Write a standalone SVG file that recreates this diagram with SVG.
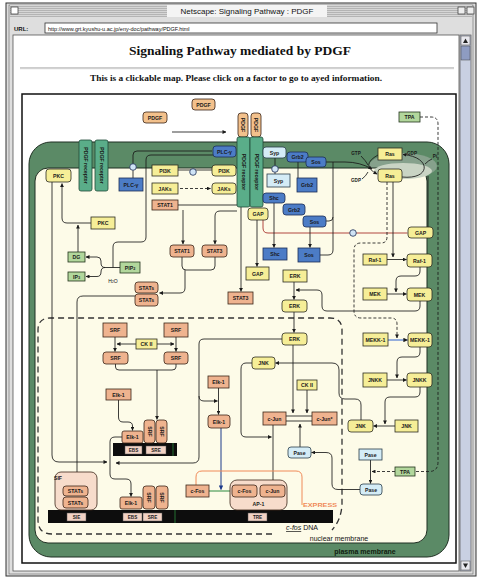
<svg xmlns="http://www.w3.org/2000/svg" width="480" height="582" viewBox="0 0 480 582">
<defs>
<marker id="a" viewBox="0 0 6 6" refX="5.5" refY="3" markerWidth="4.5" markerHeight="4.5" orient="auto"><path d="M0,0L6,3L0,6z" fill="#1a1a1a"/></marker>
<marker id="ab" viewBox="0 0 6 6" refX="5.5" refY="3" markerWidth="4.5" markerHeight="4.5" orient="auto"><path d="M0,0L6,3L0,6z" fill="#1d3a8a"/></marker>
<pattern id="st" width="3" height="2" patternUnits="userSpaceOnUse"><rect width="3" height="1" fill="#b4b4b4"/></pattern>
</defs>
<style>
.t{font-family:"Liberation Sans",Arial,sans-serif;font-size:5.2px;font-weight:bold;text-anchor:middle;fill:#1a1a1a}
.s{font-family:"Liberation Sans",Arial,sans-serif;font-size:4.6px;font-weight:bold;text-anchor:middle;fill:#1a1a1a}
.y{fill:#f6ee97;stroke:#2b2b22;stroke-width:.8}
.o{fill:#efb38f;stroke:#3a2518;stroke-width:.8}
.b{fill:#4c7cc6;stroke:#1c2d55;stroke-width:.8}
.lb{fill:#d4ecf6;stroke:#2a3d4a;stroke-width:.8}
.g{fill:#b2d79c;stroke:#22331c;stroke-width:.8}
.rc{fill:#5aad89;stroke:#1f4a37;stroke-width:.8}
.pd{fill:#f3c18c;stroke:#3a2518;stroke-width:.8}
.po{fill:#f7dccb;stroke:#3a2518;stroke-width:.8}
.ci{fill:#cfe3f5;stroke:#1c2d55;stroke-width:.8}
.c{fill:none;stroke:#1a1a1a;stroke-width:.85}
.d{fill:none;stroke:#1a1a1a;stroke-width:.85;stroke-dasharray:3 2}
.nm{fill:none;stroke:#333;stroke-width:1.3;stroke-dasharray:6 4}
.bar{fill:#0d0d0d}
.sm{fill:#f2d2c4;stroke:#555;stroke-width:.5}
</style>
<rect width="480" height="582" fill="#fff"/>
<g id="window">
<rect x="6" y="3" width="470" height="573" fill="#dedede" stroke="#333" stroke-width="1"/>
<rect x="9" y="5" width="464" height="569" fill="none" stroke="#666" stroke-width=".6"/>
<rect x="10" y="5" width="462" height="12" fill="#d6d6d6"/>
<rect x="10" y="5" width="462" height="12" fill="url(#st)"/>
<rect x="167" y="5" width="160" height="12" fill="#f4f4f4"/>
<text x="247" y="14" font-family="'Liberation Sans',Arial,sans-serif" font-size="8" text-anchor="middle" fill="#111">Netscape: Signaling Pathway : PDGF</text>
<rect x="11" y="7" width="7" height="7" fill="#fff" stroke="#333" stroke-width=".7"/>
<rect x="458" y="7" width="7" height="7" fill="#eee" stroke="#333" stroke-width=".7"/>
<rect x="467" y="7" width="7" height="7" fill="#eee" stroke="#333" stroke-width=".7"/>
<text x="14" y="31" font-family="'Liberation Sans',Arial,sans-serif" font-size="6" font-weight="bold" fill="#111">URL:</text>
<rect x="45" y="23" width="392" height="10" fill="#fff" stroke="#333" stroke-width=".8"/>
<text x="48" y="30.5" font-family="'Liberation Sans',Arial,sans-serif" font-size="5.5" fill="#111">http://www.grt.kyushu-u.ac.jp/eny-doc/pathway/PDGF.html</text>
<rect x="13" y="35" width="446" height="536" fill="#fff" stroke="#555" stroke-width=".8"/>
<rect x="460" y="35" width="11" height="536" fill="#c9d0e2" stroke="#555" stroke-width=".7"/>
<rect x="461" y="36" width="9" height="9" fill="#e8e8ee" stroke="#444" stroke-width=".5"/>
<path d="M465.5,38.5L468,43H463z" fill="#222"/>
<rect x="461" y="46" width="9" height="14" fill="#8e9cc2" stroke="#444" stroke-width=".5"/>
<rect x="461" y="561" width="9" height="9" fill="#e8e8ee" stroke="#444" stroke-width=".5"/>
<path d="M465.5,568L468,563.5H463z" fill="#222"/>
<text x="240" y="55" font-family="'Liberation Serif','Times New Roman',serif" font-size="13.5" font-weight="bold" text-anchor="middle" fill="#111">Signaling Pathway mediated by PDGF</text>
<line x1="20" y1="68" x2="454" y2="68" stroke="#9a9a9a" stroke-width="1"/>
<line x1="20" y1="69" x2="454" y2="69" stroke="#e0e0e0" stroke-width=".6"/>
<text x="236" y="81" font-family="'Liberation Serif','Times New Roman',serif" font-size="7.6" font-weight="bold" text-anchor="middle" fill="#111" textLength="292" lengthAdjust="spacingAndGlyphs">This is a clickable map. Please click on a factor to go to ayed information.</text>
<rect x="22" y="94" width="434" height="469" fill="#fff" stroke="#111" stroke-width="1.5"/>
</g>
<g id="plasma-membrane">
<rect x="29" y="142" width="420" height="415" rx="22" fill="#5b8a66" stroke="#1f2f22" stroke-width="1"/>
<ellipse cx="403" cy="166" rx="34" ry="13" fill="#86a18c"/>
<rect x="35" y="168" width="392" height="375" rx="13" fill="#fdfbe8" stroke="#1f2f22" stroke-width="1"/>
<ellipse cx="403" cy="171" rx="29" ry="8" fill="#c9d4c4"/>
<text x="365" y="553.5" font-family="'Liberation Sans',Arial,sans-serif" font-size="7" font-weight="bold" text-anchor="middle" fill="#10200f">plasma membrane</text>
</g>
<g id="nuclear-membrane">
<path class="nm" d="M272,534H52Q38,534 38,520V330Q38,318 50,318H330Q342,318 342,330V505Q341,520 332,530"/>
<text x="302" y="530" font-family="'Liberation Sans',Arial,sans-serif" font-size="7" text-anchor="middle" fill="#111"><tspan font-style="italic" text-decoration="underline">c-fos</tspan> DNA</text>
<text x="339" y="540.5" font-family="'Liberation Sans',Arial,sans-serif" font-size="7" text-anchor="middle" fill="#111">nuclear membrane</text>
</g>
<g id="dna">
<rect class="bar" x="113" y="443" width="64" height="13"/>
<line x1="173" y1="443" x2="173" y2="456" stroke="#2b8a3e" stroke-width=".8"/>
<rect class="sm" x="125" y="446" width="17" height="8"/><text class="s" x="133.5" y="451.8">EBS</text>
<rect class="sm" x="146" y="446" width="20" height="8"/><text class="s" x="156" y="451.8">SRE</text>
<rect class="bar" x="48" y="510" width="285" height="13"/>
<line x1="175" y1="510" x2="175" y2="523" stroke="#2b8a3e" stroke-width=".8"/>
<rect class="sm" x="67" y="513" width="19" height="8"/><text class="s" x="76.5" y="518.8">SIE</text>
<rect class="sm" x="123" y="513" width="19" height="8"/><text class="s" x="132.5" y="518.8">EBS</text>
<rect class="sm" x="143" y="513" width="19" height="8"/><text class="s" x="152.5" y="518.8">SRE</text>
<rect class="sm" x="248" y="513" width="19" height="8"/><text class="s" x="257.5" y="518.8">TRE</text>
</g>
<g id="connectors">
<path class="c" d="M172,132H226" marker-end="url(#a)"/>
<path class="c" d="M133,163.7V155Q133,151 137,151H212"/>
<path class="c" d="M133,170.3V178"/>
<path class="c" d="M213,155H151Q146,155 146,160V237Q146,242 141,242H118Q113,242 113,247V267.5"/>
<path class="c" d="M120,267.5H105"/>
<path class="c" d="M105,267.5Q101,267.5 101,263V261Q101,257 97,257H86" marker-end="url(#a)"/>
<path class="c" d="M105,267.5Q101,267.5 101,272Q101,276.5 97,276.5H86" marker-end="url(#a)"/>
<path class="c" d="M91,223H67Q62,223 62,218V183.5" marker-end="url(#a)"/>
<path class="c" d="M78,252V225" marker-end="url(#a)"/>
<path class="c" d="M52,182V455Q52,462 59,462H107" marker-end="url(#a)"/>
<path class="c" d="M178,170H212"/>
<path class="d" d="M180,188.5H210.5" marker-end="url(#a)"/>
<path class="c" d="M178,205H237"/>
<path class="c" d="M183,210V244" marker-end="url(#a)"/>
<path class="c" d="M237,211H220Q215,211 215,216V244" marker-end="url(#a)"/>
<path class="c" d="M182,257V266Q182,270 186,270H211Q215,270 215,266V257"/>
<path class="c" d="M185,270V288Q185,293 180,293H159.5" marker-end="url(#a)"/>
<path class="c" d="M135,296H83Q77,296 77,302V485" marker-end="url(#a)"/>
<path class="c" d="M241,207V291.5" marker-end="url(#a)"/>
<path class="c" d="M257,220V266.5" marker-end="url(#a)"/>
<path fill="none" stroke="#a8322d" stroke-width=".9" d="M263,220V228Q263,233 268,233H407.5"/>
<path class="c" d="M275,158V165.7M275,172.3V174"/>
<path class="c" d="M298,162V178"/>
<path class="c" d="M274,203V247.5" marker-end="url(#a)"/>
<path class="c" d="M310,227V247.5" marker-end="url(#a)"/>
<path class="c" d="M326,162H345Q360,162 372,169" marker-end="url(#a)"/>
<path class="c" d="M320,255H328Q333,255 333,250V162"/>
<path class="c" d="M326,221H329Q333,221 333,217"/>
<path class="c" d="M378,155Q360,165 377,174" marker-end="url(#a)"/>
<path class="c" d="M402,177C431,180 432,157 403,154.5" marker-end="url(#a)"/>
<path class="c" d="M361,156Q366,161 368,165"/>
<path class="c" d="M362,179Q366,176 368,172"/>
<path class="c" d="M425,164Q429,160 432,159"/>
<path class="c" d="M428,227V176"/>
<path class="c" d="M393,182V257" marker-end="url(#a)"/>
<path class="d" d="M387,182V237Q387,243 381,243H361Q354,243 354,250V311Q354,318 361,318H391Q397,318 397,324V338" marker-end="url(#a)"/>
<path class="c" d="M387,259.5H406.5" marker-end="url(#a)"/>
<path class="c" d="M387,294H406.5" marker-end="url(#a)"/>
<path fill="none" stroke="#2e62d0" stroke-width="1" d="M388,340H407.5" marker-end="url(#a)"/>
<path class="c" d="M387,380H406.5" marker-end="url(#a)"/>
<path class="c" d="M420,267V271Q420,276 415,276H401Q396,276 396,281V292" marker-end="url(#a)"/>
<path class="c" d="M420,301V306Q420,311 415,311H327Q322,311 322,306V295Q322,290 317,290H296" marker-end="url(#a)"/>
<path class="c" d="M420,347V352Q420,357 415,357H402Q397,357 397,362V378" marker-end="url(#a)"/>
<path class="c" d="M420,387V392Q420,397 415,397H390Q385,397 385,402V424" marker-end="url(#a)"/>
<path class="c" d="M395,426H373.5" marker-end="url(#a)"/>
<path class="c" d="M361,420V405Q361,399 355,399H345Q339,399 339,393V370Q339,363 332,363H275.5" marker-end="url(#a)"/>
<path class="c" d="M294,282V299.5" marker-end="url(#a)"/>
<path class="c" d="M294,312V332.5" marker-end="url(#a)"/>
<path class="c" d="M282,339H204Q199,339 199,344V396Q199,401 204,401H217.5" marker-end="url(#a)"/>
<path class="c" d="M199,396V457Q199,463 193,463H116" marker-end="url(#a)"/>
<path class="c" d="M293,345V413" marker-end="url(#a)"/>
<path class="c" d="M252,363H246Q241,363 241,369V432Q241,437 246,437H271.5" marker-end="url(#a)"/>
<path class="c" d="M273,425V484" marker-end="url(#a)"/>
<path class="c" d="M286,416H312M286,421H312"/>
<path class="c" d="M307,390V413" marker-end="url(#a)"/>
<path class="c" d="M300,447V424" marker-end="url(#a)"/>
<path class="c" d="M360,489.5H338Q332,489.5 332,484V458Q332,452.5 326,452.5H311.5" marker-end="url(#a)"/>
<path class="c" d="M370.5,460V483.5" marker-end="url(#a)"/>
<path class="d" d="M395,471.5H372" marker-end="url(#a)"/>
<path class="d" d="M420,117H431Q438,117 438,124V462Q438,471.5 429,471.5H415"/>
<path class="c" d="M115,337V351.5" marker-end="url(#a)"/>
<path class="c" d="M176,337V351.5" marker-end="url(#a)"/>
<path class="c" d="M136,344H117" marker-end="url(#a)"/>
<path class="c" d="M157,344H174" marker-end="url(#a)"/>
<path class="c" d="M115.5,364V367Q115.5,370 119,370H172Q176,370 176,367V364"/>
<path class="c" d="M157,370V419.5" marker-end="url(#a)"/>
<path class="c" d="M118.5,400V417Q118.5,422 123,422H128Q132.5,422 132.5,426V430.5" marker-end="url(#a)"/>
<path class="c" d="M218.5,388V414.5" marker-end="url(#a)"/>
<path fill="none" stroke="#1d3a8a" stroke-width="1" d="M221,428V489.5" marker-end="url(#ab)"/>
<path fill="none" stroke="#2b8a3e" stroke-width="1" d="M209,491H232"/>
<path fill="none" stroke="#f08a58" stroke-width="1" d="M196,485V477Q196,471 202,471H296Q302,471 302,477V505"/>
<path class="c" d="M122,437H115Q110,437 110,442V474Q110,479 115,479H126Q131,479 131,484V496.5" marker-end="url(#a)"/>
</g>
<g id="PDGF-1"><rect class="pd" x="192" y="99" width="23" height="11" rx="3"/><text class="t" x="203.5" y="106.5">PDGF</text></g>
<g id="PDGF-2"><rect class="pd" x="143" y="112" width="24" height="11" rx="3"/><text class="t" x="155" y="119.5">PDGF</text></g>
<g id="PDGF-bound-1"><rect class="pd" x="238" y="113" width="10" height="24" rx="3"/><text class="t" transform="translate(241.2,125) rotate(90)">PDGF</text></g>
<g id="PDGF-bound-2"><rect class="pd" x="251" y="113" width="10" height="24" rx="3"/><text class="t" transform="translate(254.2,125) rotate(90)">PDGF</text></g>
<g id="receptor-1"><rect class="rc" x="237" y="137" width="13" height="70" rx="2"/><text class="t" transform="translate(241.7,172) rotate(90)">PDGF receptor</text></g>
<g id="receptor-2"><rect class="rc" x="250" y="137" width="13" height="70" rx="2"/><text class="t" transform="translate(254.7,172) rotate(90)">PDGF receptor</text></g>
<g id="receptor-3"><rect class="rc" x="79" y="140" width="13" height="51" rx="2"/><text class="t" transform="translate(83.7,165.5) rotate(90)">PDGF receptor</text></g>
<g id="receptor-4"><rect class="rc" x="95" y="140" width="13" height="51" rx="2"/><text class="t" transform="translate(99.7,165.5) rotate(90)">PDGF receptor</text></g>
<g id="PKC-a"><rect class="y" x="46" y="169" width="25" height="13" rx="3"/><text class="t" x="58.5" y="177.5">PKC</text></g>
<g id="PKC"><rect class="y" x="91" y="217" width="24" height="12"/><text class="t" x="103" y="225">PKC</text></g>
<g id="pY-1"><circle class="ci" cx="133" cy="167" r="3.3"/></g>
<g id="PLCg"><rect class="b" x="119" y="178" width="24" height="13"/><text class="t" x="131" y="186.5">PLC-γ</text></g>
<g id="PLCg-a"><rect class="b" x="213" y="146" width="23" height="11" rx="3"/><text class="t" x="224.5" y="153.5">PLC-γ</text></g>
<g id="PI3K"><rect class="y" x="152" y="165" width="26" height="11"/><text class="t" x="165" y="172.5">PI3K</text></g>
<g id="pY-2"><circle class="ci" cx="193" cy="172" r="3.3"/></g>
<g id="PI3K-a"><rect class="y" x="212" y="165" width="24" height="11" rx="3"/><text class="t" x="224" y="172.5">PI3K</text></g>
<g id="JAKs"><rect class="y" x="152" y="183" width="26" height="11"/><text class="t" x="165" y="190.5">JAKs</text></g>
<g id="JAKs-a"><rect class="y" x="212" y="183" width="24" height="11" rx="3"/><text class="t" x="224" y="190.5">JAKs</text></g>
<g id="STAT1"><rect class="o" x="152" y="200" width="26" height="10"/><text class="t" x="165" y="207">STAT1</text></g>
<g id="Syp-a"><rect class="lb" x="263" y="147" width="23" height="11" rx="3"/><text class="t" x="274.5" y="154.5">Syp</text></g>
<g id="pY-3"><circle class="ci" cx="275" cy="169" r="3.3"/></g>
<g id="Syp"><rect class="lb" x="267" y="174" width="23" height="13"/><text class="t" x="278.5" y="182.5">Syp</text></g>
<g id="Grb2-a"><rect class="b" x="287" y="152" width="21" height="10" rx="3"/><text class="t" x="297.5" y="159">Grb2</text></g>
<g id="Sos-a"><rect class="b" x="306" y="157" width="20" height="10" rx="3"/><text class="t" x="316" y="164">Sos</text></g>
<g id="Grb2"><rect class="b" x="297" y="178" width="20" height="14"/><text class="t" x="307" y="187">Grb2</text></g>
<g id="Shc-a"><rect class="b" x="263" y="193" width="22" height="10" rx="3"/><text class="t" x="274" y="200">Shc</text></g>
<g id="Grb2-b"><rect class="b" x="283" y="204" width="22" height="11" rx="3"/><text class="t" x="294" y="211.5">Grb2</text></g>
<g id="Sos-b"><rect class="b" x="303" y="216" width="23" height="11" rx="3"/><text class="t" x="314.5" y="223.5">Sos</text></g>
<g id="GAP-a"><rect class="y" x="248" y="208" width="20" height="12" rx="3"/><text class="t" x="258" y="216">GAP</text></g>
<g id="Ras-GDP"><rect class="y" x="378" y="148" width="24" height="12"/><text class="t" x="390" y="156">Ras</text></g>
<g id="Ras-GTP"><rect class="y" x="378" y="169" width="24" height="13" rx="3"/><text class="t" x="390" y="177.5">Ras</text></g>
<g id="ras-labels">
<text class="s" x="356" y="155">GTP</text>
<text class="s" x="356" y="182">GDP</text>
<text class="s" x="412" y="155">GDP</text>
<text class="s" x="435" y="158">Pi</text>
</g>
<g id="TPA-1"><rect class="g" x="399" y="112" width="21" height="10"/><text class="t" x="409.5" y="119">TPA</text></g>
<g id="pY-4"><circle class="ci" cx="353" cy="233" r="3.3"/></g>
<g id="GAP-b"><rect class="y" x="408" y="227" width="25" height="11" rx="3"/><text class="t" x="420.5" y="234.5">GAP</text></g>
<g id="DG"><rect class="g" x="68" y="252" width="17" height="10"/><text class="t" x="76.5" y="259">DG</text></g>
<g id="IP3"><rect class="g" x="68" y="272" width="17" height="9"/><text class="t" x="76.5" y="278.5">IP<tspan font-size="3.8">3</tspan></text></g>
<g id="PIP2"><rect class="g" x="120" y="262" width="20" height="11"/><text class="t" x="130" y="269.5">PIP<tspan font-size="3.8">2</tspan></text></g>
<text x="113" y="283" font-family="'Liberation Sans',Arial,sans-serif" font-size="5" text-anchor="middle" fill="#111">H<tspan font-size="3.6">2</tspan>O</text>
<g id="STAT1-a"><rect class="o" x="170" y="245" width="24" height="12" rx="3"/><text class="t" x="182" y="253">STAT1</text></g>
<g id="STAT3-a"><rect class="o" x="202" y="245" width="25" height="12" rx="3"/><text class="t" x="214.5" y="253">STAT3</text></g>
<g id="STATs-1"><rect class="o" x="135" y="282" width="23" height="11" rx="3"/><text class="t" x="146.5" y="289.5">STATs</text></g>
<g id="STATs-2"><rect class="o" x="135" y="294" width="23" height="12" rx="3"/><text class="t" x="146.5" y="302">STATs</text></g>
<g id="GAP"><rect class="y" x="246" y="267" width="23" height="13"/><text class="t" x="257.5" y="275.5">GAP</text></g>
<g id="STAT3"><rect class="o" x="228" y="292" width="25" height="12"/><text class="t" x="240.5" y="300">STAT3</text></g>
<g id="Shc"><rect class="b" x="263" y="248" width="24" height="12"/><text class="t" x="275" y="256">Shc</text></g>
<g id="Sos"><rect class="b" x="298" y="248" width="22" height="14"/><text class="t" x="309" y="257">Sos</text></g>
<g id="ERK"><rect class="y" x="283" y="270" width="24" height="12"/><text class="t" x="295" y="278">ERK</text></g>
<g id="ERK-a"><rect class="y" x="282" y="300" width="25" height="12" rx="3"/><text class="t" x="294.5" y="308">ERK</text></g>
<g id="Raf-1"><rect class="y" x="363" y="254" width="24" height="11"/><text class="t" x="375" y="261.5">Raf-1</text></g>
<g id="Raf-1-a"><rect class="y" x="407" y="254" width="25" height="13" rx="3"/><text class="t" x="419.5" y="262.5">Raf-1</text></g>
<g id="MEK"><rect class="y" x="363" y="288" width="24" height="12"/><text class="t" x="375" y="296">MEK</text></g>
<g id="MEK-a"><rect class="y" x="407" y="288" width="25" height="13" rx="3"/><text class="t" x="419.5" y="296.5">MEK</text></g>
<g id="MEKK-1"><rect class="y" x="363" y="333" width="25" height="13"/><text class="t" x="375.5" y="341.5">MEKK-1</text></g>
<g id="MEKK-1-a"><rect class="y" x="408" y="333" width="24" height="14" rx="3"/><text class="t" x="420" y="342">MEKK-1</text></g>
<g id="JNKK"><rect class="y" x="363" y="373" width="24" height="14"/><text class="t" x="375" y="382">JNKK</text></g>
<g id="JNKK-a"><rect class="y" x="407" y="373" width="25" height="14" rx="3"/><text class="t" x="419.5" y="382">JNKK</text></g>
<g id="ERK-n"><rect class="y" x="282" y="333" width="25" height="12" rx="3"/><text class="t" x="294.5" y="341">ERK</text></g>
<g id="SRF-1"><rect class="o" x="103" y="323" width="24" height="14"/><text class="t" x="115" y="332">SRF</text></g>
<g id="SRF-2"><rect class="o" x="164" y="323" width="24" height="14"/><text class="t" x="176" y="332">SRF</text></g>
<g id="CKII-1"><rect class="y" x="136" y="339" width="21" height="10"/><text class="t" x="146.5" y="346">CK II</text></g>
<g id="SRF-1a"><rect class="o" x="103" y="352" width="25" height="12" rx="3"/><text class="t" x="115.5" y="360">SRF</text></g>
<g id="SRF-2a"><rect class="o" x="164" y="352" width="24" height="12" rx="3"/><text class="t" x="176" y="360">SRF</text></g>
<g id="Elk-1-1"><rect class="o" x="106" y="389" width="25" height="11"/><text class="t" x="118.5" y="396.5">Elk-1</text></g>
<g id="Elk-1-b1"><rect class="o" x="122" y="431" width="21" height="12" rx="2"/><text class="t" x="132.5" y="439">Elk-1</text></g>
<g id="SRF-v1"><rect class="o" x="144" y="420" width="11" height="23" rx="3"/><text class="t" transform="translate(147.7,431.5) rotate(90)">SRF</text></g>
<g id="SRF-v2"><rect class="o" x="156" y="420" width="11" height="23" rx="3"/><text class="t" transform="translate(159.7,431.5) rotate(90)">SRF</text></g>
<g id="JNK-n"><rect class="y" x="252" y="357" width="23" height="12" rx="3"/><text class="t" x="263.5" y="365">JNK</text></g>
<g id="Elk-1-2"><rect class="o" x="208" y="376" width="21" height="12"/><text class="t" x="218.5" y="384">Elk-1</text></g>
<g id="Elk-1-2a"><rect class="o" x="208" y="415" width="22" height="13" rx="3"/><text class="t" x="219" y="423.5">Elk-1</text></g>
<g id="CKII-2"><rect class="y" x="297" y="380" width="20" height="10"/><text class="t" x="307" y="387">CK II</text></g>
<g id="c-Jun"><rect class="o" x="263" y="412" width="23" height="13"/><text class="t" x="274.5" y="420.5">c-Jun</text></g>
<g id="c-Jun-p"><rect class="o" x="312" y="412" width="25" height="13"/><text class="t" x="324.5" y="420.5">c-Jun*</text></g>
<g id="Pase-n"><rect class="lb" x="288" y="447" width="23" height="11" rx="3"/><text class="t" x="299.5" y="454.5">Pase</text></g>
<g id="JNK-a"><rect class="y" x="348" y="420" width="25" height="12" rx="3"/><text class="t" x="360.5" y="428">JNK</text></g>
<g id="JNK"><rect class="y" x="395" y="420" width="23" height="12"/><text class="t" x="406.5" y="428">JNK</text></g>
<g id="Pase"><rect class="lb" x="359" y="449" width="23" height="11"/><text class="t" x="370.5" y="456.5">Pase</text></g>
<g id="Pase-a"><rect class="lb" x="360" y="484" width="22" height="11" rx="3"/><text class="t" x="371" y="491.5">Pase</text></g>
<g id="TPA-2"><rect class="g" x="395" y="467" width="20" height="9"/><text class="t" x="405" y="473.5">TPA</text></g>
<g id="SIF"><rect class="po" x="55" y="472" width="42" height="38" rx="6"/><text class="t" x="58" y="479.5" text-anchor="start">SIF</text>
<rect class="o" x="63" y="486" width="25" height="10" rx="3"/><text class="t" x="75.5" y="493">STATs</text>
<rect class="o" x="63" y="497" width="25" height="11" rx="3"/><text class="t" x="75.5" y="504.5">STATs</text></g>
<g id="Elk-1-b2"><rect class="o" x="120" y="497" width="22" height="12" rx="2"/><text class="t" x="131" y="505">Elk-1</text></g>
<g id="SRF-v3"><rect class="o" x="143" y="486" width="12" height="23" rx="3"/><text class="t" transform="translate(147.2,497.5) rotate(90)">SRF</text></g>
<g id="SRF-v4"><rect class="o" x="156" y="486" width="12" height="23" rx="3"/><text class="t" transform="translate(160.2,497.5) rotate(90)">SRF</text></g>
<g id="c-Fos"><rect class="o" x="186" y="485" width="23" height="12"/><text class="t" x="197.5" y="493">c-Fos</text></g>
<g id="AP-1"><rect class="po" x="230" y="480" width="57" height="30" rx="7"/><text class="t" x="258.5" y="506">AP-1</text>
<rect class="o" x="232" y="485" width="25" height="12" rx="3"/><text class="t" x="244.5" y="493">c-Fos</text>
<rect class="o" x="260" y="485" width="25" height="12" rx="3"/><text class="t" x="272.5" y="493">c-Jun</text></g>
<text x="320" y="506.5" font-family="'Liberation Sans',Arial,sans-serif" font-size="5.5" font-weight="bold" text-anchor="middle" fill="#f08a58" textLength="34" lengthAdjust="spacingAndGlyphs">EXPRESS</text>
</svg>
